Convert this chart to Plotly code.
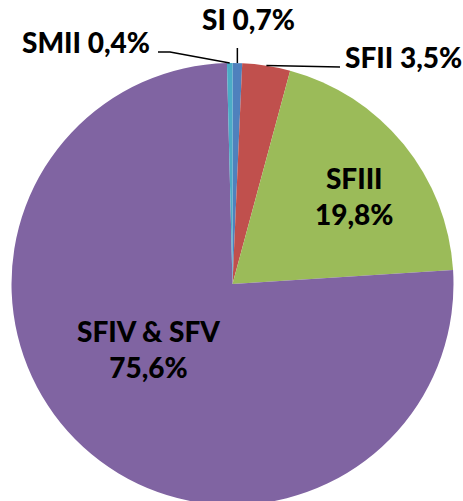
import math
import plotly.graph_objects as go

# ---- data ----
labels = ["SI", "SFII", "SFIII", "SFIV & SFV", "SMII"]
values = [0.7, 3.5, 19.8, 75.6, 0.4]
colors = ["#4F81BD", "#C0504D", "#9BBB59", "#8064A2", "#4BACC6"]
inside = [False, False, True, True, False]

# ---- layout constants (pixels) ----
W, H = 463, 510          # figure a bit taller than window; bottom is cropped like the reference
CX, CY, R = 232.5, 284.0, 221.0
FONT = "Lato"
FS = 28

# label text centres (px) and leader elbows
label_pos = {
    "SI": (249, 19),
    "SFII": (403, 57),
    "SFIII": (354, 196),
    "SFIV & SFV": (148, 349),
    "SMII": (86, 42),
}
leader_pts = {
    "SI": [(None, 48)],
    "SFII": [(340, 67)],
    "SMII": [(170, 52), (158, 52)],
}


def px(x):
    return x / W


def py(y):
    return 1 - y / H


fig = go.Figure(
    go.Pie(
        labels=labels,
        values=values,
        marker=dict(colors=colors, line=dict(width=0)),
        sort=False,
        direction="clockwise",
        rotation=0,
        textinfo="none",
        hoverinfo="label+percent",
        showlegend=False,
        domain=dict(x=[px(CX - R), px(CX + R)], y=[py(CY + R), py(CY - R)]),
    )
)

total = sum(values)
cum = 0.0
annotations = []
shapes = []
for lab, v, ins in zip(labels, values, inside):
    mid = (cum + v / 2) / total * 2 * math.pi
    cum += v
    pct = f"{v:.1f}".replace(".", ",") + "%"
    tx, ty = label_pos[lab]
    text = f"{lab}<br>{pct}" if ins else f"{lab} {pct}"
    annotations.append(
        dict(
            x=px(tx), y=py(ty), xref="paper", yref="paper",
            text=text, showarrow=False, xanchor="center", yanchor="middle",
            font=dict(family=FONT, size=FS, color="black", weight=900),
        )
    )
    if not ins:
        ex = CX + R * math.sin(mid)
        ey = CY - R * math.cos(mid)
        pts = [(ex, ey)] + [((ex if x is None else x), y) for x, y in leader_pts[lab]]
        path = "M " + " L ".join(f"{px(x)},{py(y)}" for x, y in pts)
        shapes.append(
            dict(type="path", path=path, xref="paper", yref="paper",
                 line=dict(color="black", width=1.5))
        )

fig.update_layout(
    width=W, height=H,
    margin=dict(l=0, r=0, t=0, b=0),
    paper_bgcolor="white", plot_bgcolor="white",
    annotations=annotations, shapes=shapes,
)

fig.write_html(
    "out.html",
    config={"displayModeBar": False},
    post_script="document.body.style.margin='0';document.body.style.overflow='hidden';",
)
